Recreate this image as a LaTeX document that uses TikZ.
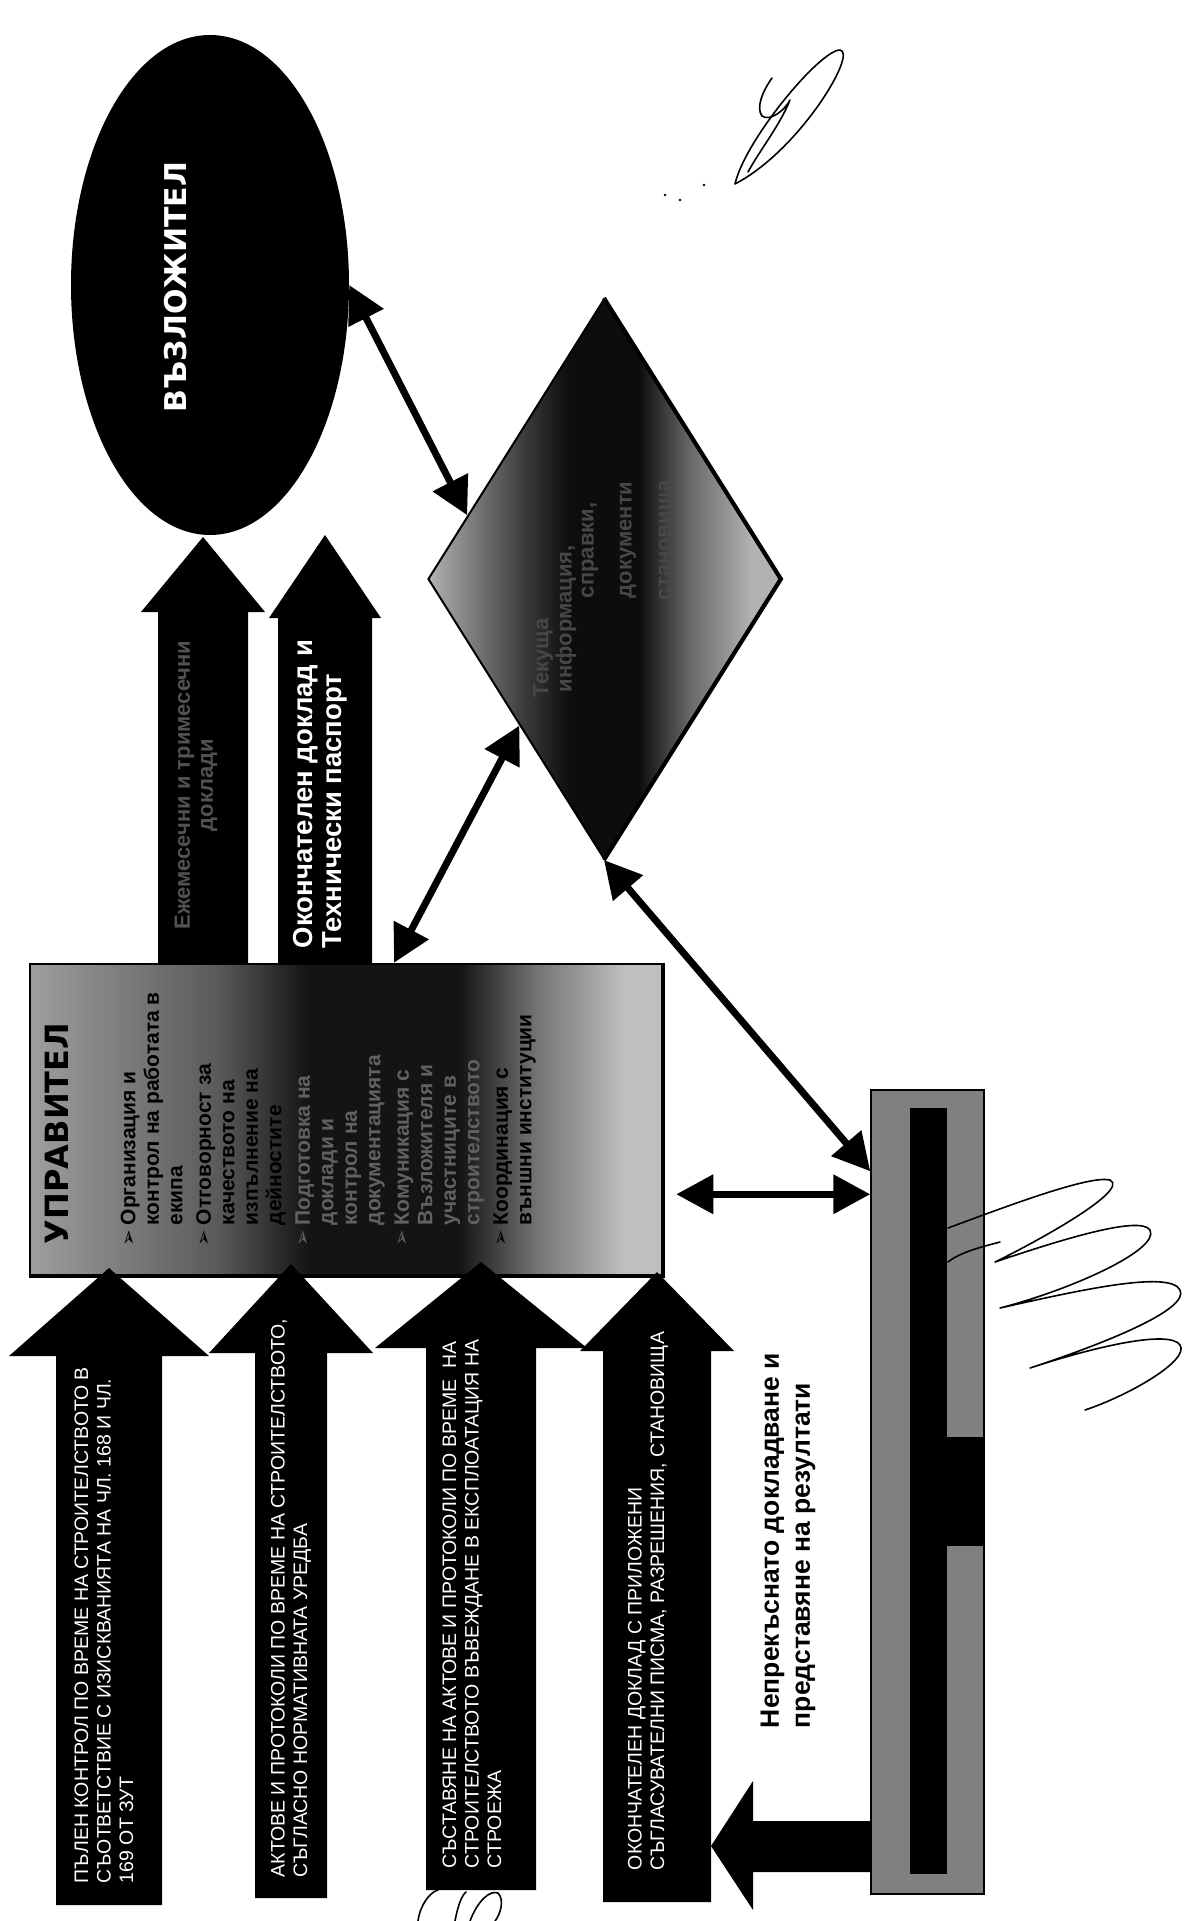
\documentclass[tikz,border=0pt]{standalone}
\usepackage{fontspec}
\setmainfont{Liberation Sans}
\newfontfamily\dejavu{DejaVu Sans}
\usetikzlibrary{arrows.meta,shapes.geometric,calc}
\colorlet{shA}{black!38}
\colorlet{shB}{black!65}
\colorlet{shC}{black!92}
\colorlet{shD}{black!55}
\colorlet{shE}{black!25}
\colorlet{dA}{black!30}
\colorlet{dB}{black!78}
\colorlet{dC}{black!95}
\colorlet{dD}{black!60}
\colorlet{dE}{black!30}
\pgfdeclarehorizontalshading{midDark}{100bp}{color(0bp)=(shA); color(25bp)=(shA); color(40bp)=(shB); color(47bp)=(shC); color(59bp)=(shC); color(65bp)=(shD); color(72bp)=(shE); color(100bp)=(shE)}
\pgfdeclarehorizontalshading{diaDark}{100bp}{color(0bp)=(dA); color(25bp)=(dA); color(39bp)=(dB); color(45bp)=(dC); color(55bp)=(dC); color(62bp)=(dD); color(71bp)=(dE); color(100bp)=(dE)}
\newcommand{\blockup}[6]{\fill[black] (#1,#2) -- ({#1+#3},#4) -- ({#1+#5},#4) -- ({#1+#5},#6) -- ({#1-#5},#6) -- ({#1-#5},#4) -- ({#1-#3},#4) -- cycle;}
\newcommand{\bl}{{\dejavu\fontsize{20}{20}\selectfont ➢}}
\begin{document}
\begin{tikzpicture}[x=1pt,y=-1pt,
  conn/.style={line width=7pt, {Triangle[length=37pt,width=38pt]}-{Triangle[length=37pt,width=38pt]}},
  rot/.style={rotate=90, inner sep=0pt, outer sep=0pt},
  caps/.style={rot, anchor=west, align=left, text=white, font=\fontsize{19.5}{22.5}\selectfont},
  bul/.style={rot, anchor=north west, font=\bfseries\fontsize{21}{23.5}\selectfont},
  dtxt/.style={rot, anchor=west, text=black!72, font=\bfseries\fontsize{22}{26}\selectfont},
  sig/.style={line width=1.6pt, line cap=round, line join=round}]
\useasboundingbox (0,0) rectangle (1199,1921);
\fill[white] (0,0) rectangle (1199,1921);

% client ellipse
\node[ellipse, fill=black, minimum width=278pt, minimum height=500pt, inner sep=0pt] (client) at (210,285) {};
\node[rot, text=white, font=\dejavu\bfseries\fontsize{30}{34}\selectfont] (clienttxt) at (176,287) {ВЪЗЛОЖИТЕЛ};

% diamond
\node[diamond, minimum width=352pt, minimum height=560pt, inner sep=0pt, draw=black, line width=2pt, shade, shading=diaDark] (diam) at (604,579) {};
\draw[line width=4pt] (diam.north) -- (diam.east) -- (diam.south);
\node[dtxt] (d1) at (543,697) {Текуща};
\node[dtxt] (d2) at (566,692) {информация,};
\node[dtxt] (d3) at (590,598) {справки,};
\node[dtxt] (d4) at (628,598) {документи};
\node[dtxt] (d5) at (667,600) {становища};

% manager box
\node[rectangle, minimum width=632pt, minimum height=311pt, inner sep=0pt, draw=black, line width=2.5pt, shade, shading=midDark] (mgr) at (346,1119.5) {};
\draw[line width=4pt] (mgr.north east) -- (mgr.south east) -- (mgr.south west);
\node[rot, anchor=west, font=\dejavu\bfseries\fontsize{32}{36}\selectfont] (mgrtitle) at (57,1244) {УПРАВИТЕЛ};
\node[bul] (b1) at (119,1246) {\begin{tabular}{@{}l@{\hspace{4pt}}l@{}}\bl&Организация и\\&контрол на работата в\\&екипа\end{tabular}};
\node[bul] (b2) at (194.5,1246) {\begin{tabular}{@{}l@{\hspace{4pt}}l@{}}\bl&Отговорност за\\&качеството на\\&изпълнение на\\&дейностите\end{tabular}};
\node[bul, text=black!62] (b3) at (293.5,1246) {\begin{tabular}{@{}l@{\hspace{4pt}}l@{}}\bl&Подготовка на\\&доклади и\\&контрол на\\&документацията\end{tabular}};
\node[bul, text=black!62] (b4) at (392.5,1246) {\begin{tabular}{@{}l@{\hspace{4pt}}l@{}}\bl&Комуникация с\\&Възложителя и\\&участниците в\\&строителството\end{tabular}};
\node[bul] (b5) at (491.5,1246) {\begin{tabular}{@{}l@{\hspace{4pt}}l@{}}\bl&Координация с\\&външни институции\end{tabular}};

% top block arrows
\blockup{203}{537}{62}{612}{45}{964}
\blockup{325}{535}{56}{618}{47}{964}
\node[rot, align=center, text=black!68, font=\bfseries\fontsize{22}{23}\selectfont] (tatxt) at (196,785) {Ежемесечни и тримесечни\\доклади};
\node[rot, anchor=west, align=left, text=white, font=\bfseries\fontsize{27.5}{29}\selectfont] (tbtxt) at (320,948) {Окончателен доклад и\\Технически паспорт};

% lower block arrows
\blockup{109}{1268}{100}{1356}{53}{1905}
\blockup{291}{1264}{82}{1353}{36}{1898}
\blockup{481}{1262}{106}{1348}{55}{1890}
\blockup{657}{1272}{77}{1351}{54}{1902}
\node[caps] (t1) at (104,1883) {ПЪЛЕН КОНТРОЛ ПО ВРЕМЕ НА СТРОИТЕЛСТВОТО В\\СЪОТВЕТСТВИЕ С ИЗИСКВАНИЯТА НА ЧЛ. 168 И ЧЛ.\\169 ОТ ЗУТ};
\node[caps] (t2) at (291,1877) {АКТОВЕ И ПРОТОКОЛИ ПО ВРЕМЕ НА СТРОИТЕЛСТВОТО,\\СЪГЛАСНО НОРМАТИВНАТА УРЕДБА};
\node[caps] (t3) at (472,1868) {СЪСТАВЯНЕ НА АКТОВЕ И ПРОТОКОЛИ ПО ВРЕМЕ~ НА\\СТРОИТЕЛСТВОТО ВЪВЕЖДАНЕ В ЕКСПЛОАТАЦИЯ НА\\СТРОЕЖА};
\node[caps] (t4) at (648,1870) {ОКОНЧАТЕЛЕН ДОКЛАД С ПРИЛОЖЕНИ\\СЪГЛАСУВАТЕЛНИ ПИСМА, РАЗРЕШЕНИЯ, СТАНОВИЩА};

% status bar
\node[rectangle, draw=black, line width=1.5pt, fill=black!50, minimum width=113pt, minimum height=804pt, inner sep=0pt] (bar) at (927.5,1492) {};
\fill[black] (910,1108) rectangle (947,1874);
\fill[black] (910,1437) rectangle (984,1546);
\fill[black] (871,1821) -- (753,1821) -- (753,1781) -- (711,1846) -- (753,1910) -- (753,1872) -- (871,1872) -- cycle;
\node[rot, anchor=west, align=left, font=\bfseries\fontsize{26.5}{31}\selectfont] (reptxt) at (788,1728) {Непрекъснато докладване и\\представяне на резултати};

% connectors
\draw[conn] (client.east) -- (diam.155);
\draw[conn] ($(mgr.north)+(48,0)$) -- (diam.240);
\draw[conn] (diam.south) -- ($(bar.north west)+(0,82)$);
\coordinate (h1) at ($(mgr.south east)+(13,-82)$);
\draw[conn] (h1) -- (h1 -| bar.west);

% signatures
\draw[sig] (735,184) .. controls (745,140) and (820,50) .. (840,50) .. controls (858,52) and (800,150) .. (735,184);
\draw[sig] (772,78) .. controls (762,92) and (756,108) .. (762,116) .. controls (770,122) and (785,110) .. (790,100) .. controls (780,125) and (760,150) .. (748,172);
\fill (665,195) circle (1.3pt);
\fill (680,200) circle (1.3pt);
\fill (704,185) circle (1.3pt);
\draw[sig] (948,1228) .. controls (1010,1205) and (1090,1175) .. (1110,1180) .. controls (1130,1190) and (1040,1240) .. (995,1262) .. controls (1060,1240) and (1140,1215) .. (1150,1230) .. controls (1160,1250) and (1070,1290) .. (1000,1308) .. controls (1080,1290) and (1170,1270) .. (1180,1290) .. controls (1190,1310) and (1100,1345) .. (1030,1368) .. controls (1100,1345) and (1170,1330) .. (1180,1345) .. controls (1190,1360) and (1130,1395) .. (1085,1410);
\draw[sig] (948,1262) .. controls (960,1252) and (985,1246) .. (1000,1242);
\draw[sig] (418,1921) .. controls (420,1905) and (430,1892) .. (438,1890);
\draw[sig] (470,1921) .. controls (478,1900) and (490,1890) .. (498,1893) .. controls (505,1900) and (500,1915) .. (495,1921);
\draw[sig] (455,1921) .. controls (458,1905) and (462,1895) .. (466,1892);
\end{tikzpicture}
\end{document}
